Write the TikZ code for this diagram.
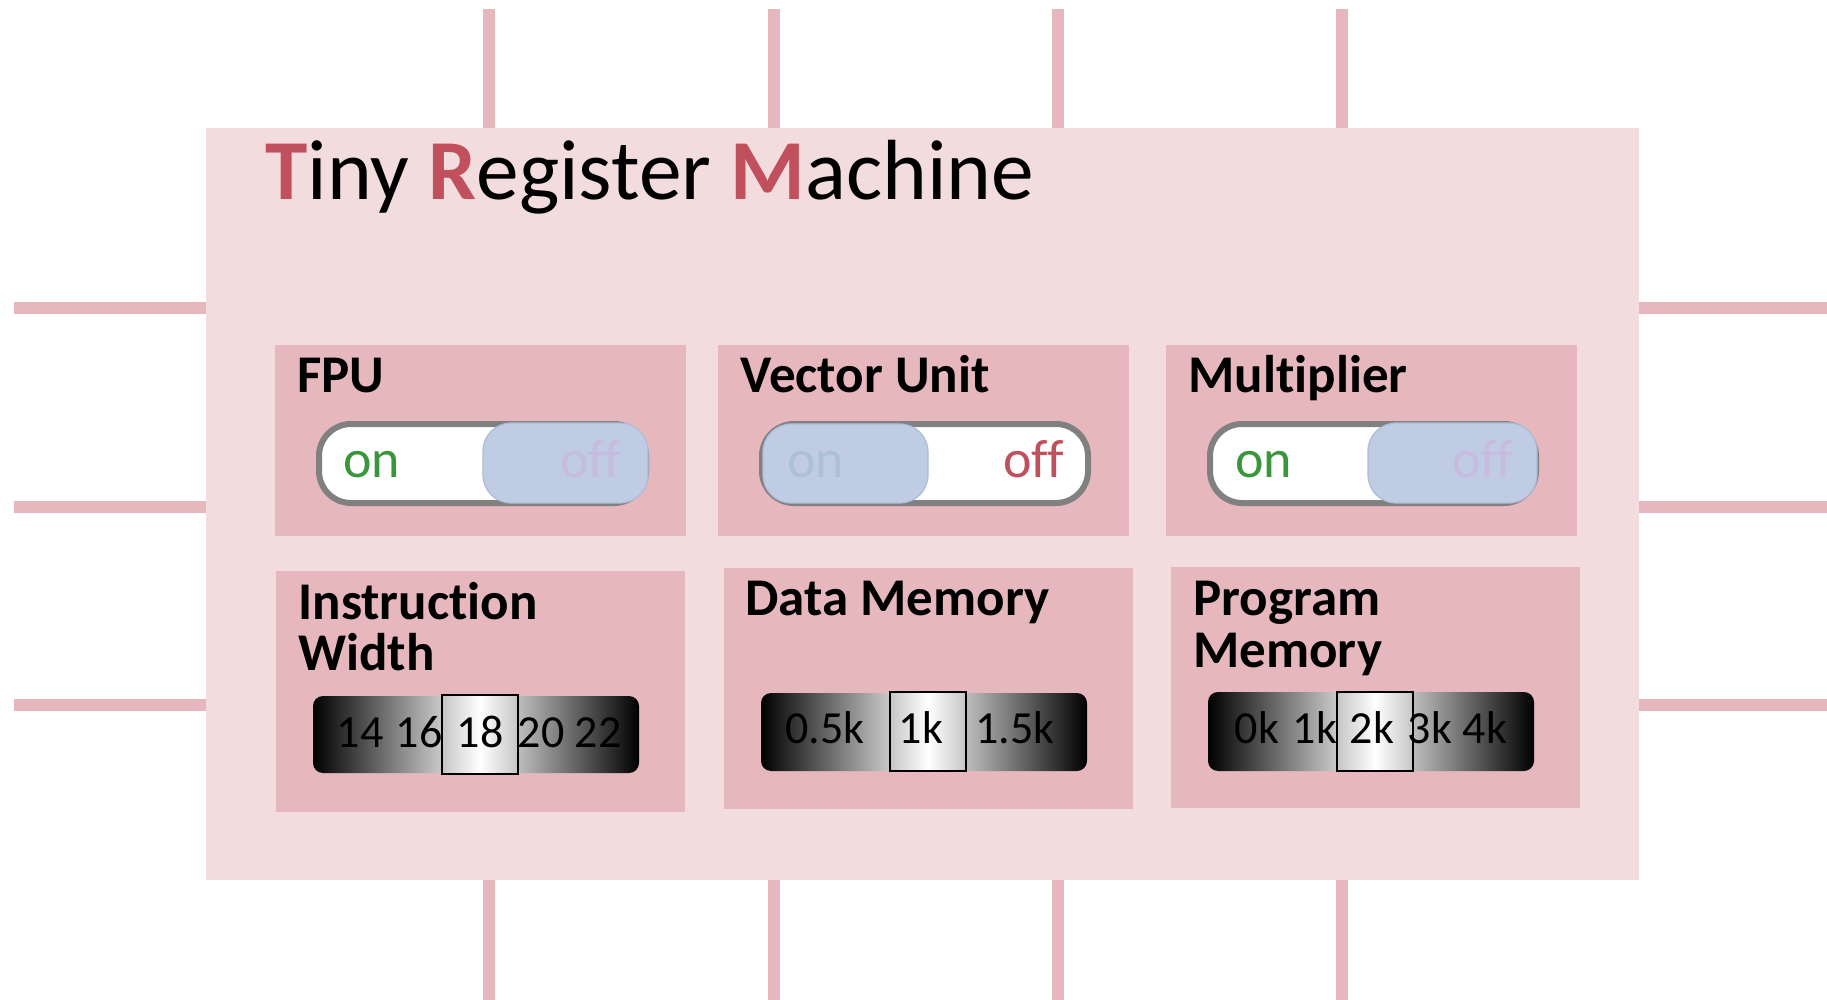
\documentclass[tikz,border=0pt]{standalone}
\usepackage{fontspec}
\setmainfont{Carlito}[Ligatures={NoCommon}]

\definecolor{pinpink}{RGB}{230,184,190}
\definecolor{boardpink}{RGB}{242,220,222}
\definecolor{panelpink}{RGB}{230,183,189}
\definecolor{accentred}{RGB}{192,80,92}
\definecolor{ongreen}{RGB}{58,150,60}
\definecolor{knobblue}{RGB}{191,204,228}
\definecolor{knobedge}{RGB}{172,188,216}
\definecolor{fadedoff}{RGB}{198,188,224}
\definecolor{fadedon}{RGB}{172,194,212}
\definecolor{rimgray}{RGB}{128,128,128}

\tikzset{
  pinline/.style={draw=pinpink, line width=6pt},
  panel/.style={fill=panelpink},
  rim/.style={draw=rimgray, line width=3pt, fill=white, rounded corners=16pt},
  knob/.style={fill=knobblue, draw=knobedge, line width=0.6pt, rounded corners=14pt},
  bar/.style={left color=black, right color=black, middle color=white, rounded corners=5pt},
  thumb/.style={left color=gray!45, right color=gray!45, middle color=white, draw=black, line width=0.8pt},
  txt/.style={inner sep=0pt, anchor=base west},
  ctxt/.style={inner sep=0pt, anchor=base},
  paneltitle/.style={txt, font=\fontsize{26.5}{30}\selectfont\bfseries},
  switchtxt/.style={txt, font=\fontsize{27}{32}\selectfont},
  ticktxt/.style={ctxt, font=\fontsize{23}{28}\selectfont},
}

\begin{document}
\begin{tikzpicture}[x=0.5pt, y=-0.5pt]
  \useasboundingbox (0,0) rectangle (1827,1000);

  % pins of the chip
  \foreach \px [count=\i] in {489,774,1058,1342} {
    \coordinate (pt\i) at (\px,9);
    \coordinate (pb\i) at (\px,1000);
    \draw[pinline] (pt\i) -- (pb\i);
  }
  \foreach \py [count=\i] in {308,507,705} {
    \coordinate (pl\i) at (14,\py);
    \coordinate (pr\i) at (1827,\py);
    \draw[pinline] (pl\i) -- (pr\i);
  }

  % chip body
  \fill[boardpink] (206,128) rectangle (1639,880);

  % title
  \node[txt, font=\fontsize{42.7}{50}\selectfont] (title) at (265,200)
    {{\bfseries\color{accentred}T}iny {\bfseries\color{accentred}R}egister {\bfseries\color{accentred}M}achine};

  % option panels
  \fill[panel] (275,345) rectangle (686,536);
  \fill[panel] (718,345) rectangle (1129,536);
  \fill[panel] (1166,345) rectangle (1577,536);
  \fill[panel] (276,571) rectangle (685,812);
  \fill[panel] (724,568) rectangle (1133,809);
  \fill[panel] (1171,567) rectangle (1580,808);

  \node[paneltitle] (tfpu) at (297,393) {FPU};
  \node[paneltitle] (tvec) at (740,393) {Vector Unit};
  \node[paneltitle] (tmul) at (1188,393) {Multiplier};
  \node[paneltitle] (tiw1) at (298,619) {Instruction};
  \node[paneltitle] (tiw2) at (298,670) {Width};
  \node[paneltitle] (tdm) at (745,615) {Data Memory};
  \node[paneltitle] (tpm1) at (1193,615) {Program};
  \node[paneltitle] (tpm2) at (1193,667) {Memory};

  % FPU switch: on
  \draw[rim] (319,424) rectangle (646,503);
  \node[switchtxt, text=ongreen] (fpuon) at (343,477) {on};
  \draw[knob] (483,423) rectangle (648,503);
  \node[switchtxt, text=fadedoff] (fpuoff) at (560,477) {off};

  % Vector unit switch: off
  \draw[rim] (762,424) rectangle (1088,503);
  \node[switchtxt, text=accentred] (vecoff) at (1003,477) {off};
  \draw[knob] (763,424) rectangle (928,503);
  \node[switchtxt, text=fadedon] (vecon) at (787,477) {on};

  % Multiplier switch: on
  \draw[rim] (1210,424) rectangle (1536,503);
  \node[switchtxt, text=ongreen] (mulon) at (1235,477) {on};
  \draw[knob] (1368,423) rectangle (1537,503);
  \node[switchtxt, text=fadedoff] (muloff) at (1452,477) {off};

  % instruction width selector
  \shade[bar] (313,696) rectangle (639,773);
  \shade[thumb] (442,695) rectangle (518,774);
  \foreach \t/\cx [count=\i] in {14/360,16/419,18/480,20/541,22/598}
    \node[ticktxt] (iw\i) at (\cx,747) {\t};

  % data memory selector
  \shade[bar] (761,693) rectangle (1087,771);
  \shade[thumb] (890,692) rectangle (966,771);
  \foreach \t/\cx [count=\i] in {0.5k/825,1k/921,1.5k/1015}
    \node[ticktxt] (dm\i) at (\cx,743) {\t};

  % program memory selector
  \shade[bar] (1208,692) rectangle (1534,771);
  \shade[thumb] (1337,692) rectangle (1413,771);
  \foreach \t/\cx [count=\i] in {0k/1257,1k/1315,2k/1372,3k/1430,4k/1485}
    \node[ticktxt] (pm\i) at (\cx,743) {\t};
\end{tikzpicture}
\end{document}
